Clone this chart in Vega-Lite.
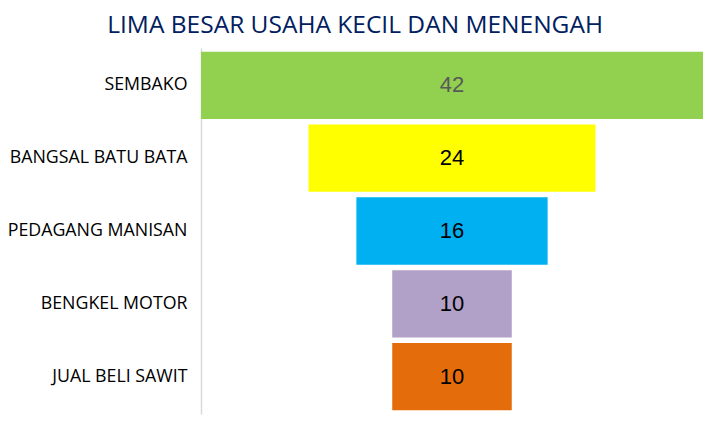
{
  "$schema": "https://vega.github.io/schema/vega-lite/v6.json",
  "width": 712,
  "height": 423,
  "autosize": {"type": "fit", "contains": "padding"},
  "padding": {"left": 7, "right": 9, "top": 12, "bottom": 9},
  "background": "white",
  "title": {
    "text": "LIMA BESAR USAHA KECIL DAN MENENGAH",
    "font": "Open Sans",
    "fontSize": 24.5,
    "fontWeight": "normal",
    "color": "#002060",
    "anchor": "middle",
    "frame": "bounds",
    "offset": 10
  },
  "config": {"view": {"stroke": null}},
  "data": {
    "values": [
      {"item": "SEMBAKO", "value": 42},
      {"item": "BANGSAL BATU BATA", "value": 24},
      {"item": "PEDAGANG MANISAN", "value": 16},
      {"item": "BENGKEL MOTOR", "value": 10},
      {"item": "JUAL BELI SAWIT", "value": 10}
    ]
  },
  "encoding": {
    "y": {
      "field": "item",
      "type": "nominal",
      "sort": null,
      "scale": {"paddingInner": 0.075, "paddingOuter": 0.05},
      "axis": {
        "title": null,
        "ticks": false,
        "tickSize": 0,
        "labelPadding": 14,
        "labelFont": "Open Sans",
        "labelFontSize": 17.8,
        "labelColor": "#000000",
        "domainColor": "#d9d9d9",
        "domainWidth": 1.5,
        "grid": false
      }
    }
  },
  "layer": [
    {
      "mark": {"type": "bar"},
      "encoding": {
        "x": {
          "field": "value",
          "type": "quantitative",
          "stack": "center",
          "scale": {"domain": [0, 42], "nice": false, "zero": true},
          "axis": null
        },
        "color": {
          "field": "item",
          "type": "nominal",
          "scale": {
            "domain": ["SEMBAKO", "BANGSAL BATU BATA", "PEDAGANG MANISAN", "BENGKEL MOTOR", "JUAL BELI SAWIT"],
            "range": ["#92D050", "#FFFF00", "#00B0F0", "#B1A0C7", "#E46C0A"]
          },
          "legend": null
        }
      }
    },
    {
      "mark": {"type": "text", "font": "Liberation Sans", "fontSize": 22, "align": "center", "baseline": "middle"},
      "encoding": {
        "x": {"datum": 21, "type": "quantitative"},
        "text": {"field": "value", "type": "quantitative"},
        "color": {
          "condition": {"test": "datum.item === 'SEMBAKO'", "value": "#595959"},
          "value": "#000000"
        }
      }
    }
  ]
}
